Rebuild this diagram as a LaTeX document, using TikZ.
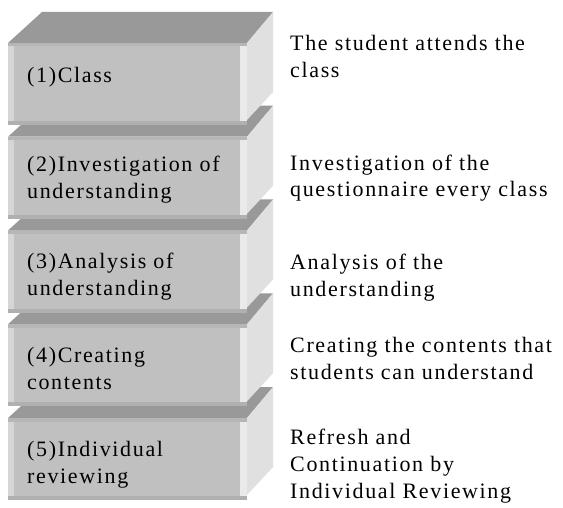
\documentclass[tikz,border=0pt]{standalone}
\usepackage{fontspec}
\setmainfont[LetterSpace=7.5]{Liberation Serif}
\begin{document}
\begin{tikzpicture}[x=1pt,y=-1pt,
  topface/.style={fill=topgray,draw=none},
  sideface/.style={fill=sidegray,draw=none},
  frontface/.style={fill=frontgray,draw=none},
  boxtext/.style={anchor=base west,inner sep=0pt,align=left,font=\fontsize{22}{27}\selectfont},
  desctext/.style={anchor=base west,inner sep=0pt,align=left,font=\fontsize{22}{27}\selectfont}]
\definecolor{topgray}{HTML}{999999}
\definecolor{sidegray}{HTML}{E0E0E0}
\definecolor{frontgray}{HTML}{C0C0C0}
\definecolor{leftgray}{HTML}{D6D6D6}
\definecolor{rightgray}{HTML}{EAEAEA}
\definecolor{botgray}{HTML}{B0B0B0}
\definecolor{topstrip}{HTML}{B6B6B6}
\useasboundingbox (0,0) rectangle (563,508);
\fill[white] (0,0) rectangle (563,508);
% boxes drawn from bottom to top
\foreach \T in {418,324.25,230.5,136.75,43}{
  \pgfmathsetmacro{\B}{\T+82}
  \fill[topface] (8,\T) -- (42,\T-31) -- (273,\T-31) -- (247,\T) -- cycle;
  \fill[sideface] (247,\T) -- (273,\T-31) -- (273,\B-33) -- (247,\B-5) -- cycle;
  \fill[frontface] (8,\T) rectangle (247,\B);
  \fill[leftgray] (8,\T) rectangle (14,\B);
  \fill[rightgray] (240,\T) rectangle (247,\B);
  \fill[botgray] (8,\B-4) rectangle (247,\B);
  \fill[topstrip] (8,\T) rectangle (247,\T+3.5);
}
% base anchor of a multi-line node = baseline of its last line
\node[boxtext] (b1) at (27,83) {(1)Class};
\node[boxtext] (b2) at (27,198.5) {(2)Investigation of\\understanding};
\node[boxtext] (b3) at (27,295.5) {(3)Analysis of\\understanding};
\node[boxtext] (b4) at (27,389.25) {(4)Creating\\contents};
\node[boxtext] (b5) at (27,483) {(5)Individual\\reviewing};
\node[desctext] (d1) at (290,78) {The student attends the\\class};
\node[desctext] (d2) at (290,197) {Investigation of the\\questionnaire every class};
\node[desctext] (d3) at (290,296) {Analysis of the\\understanding};
\node[desctext] (d4) at (290,379) {Creating the contents that\\students can understand};
\node[desctext] (d5) at (290,498) {Refresh and\\Continuation by\\Individual Reviewing};
\end{tikzpicture}
\end{document}
